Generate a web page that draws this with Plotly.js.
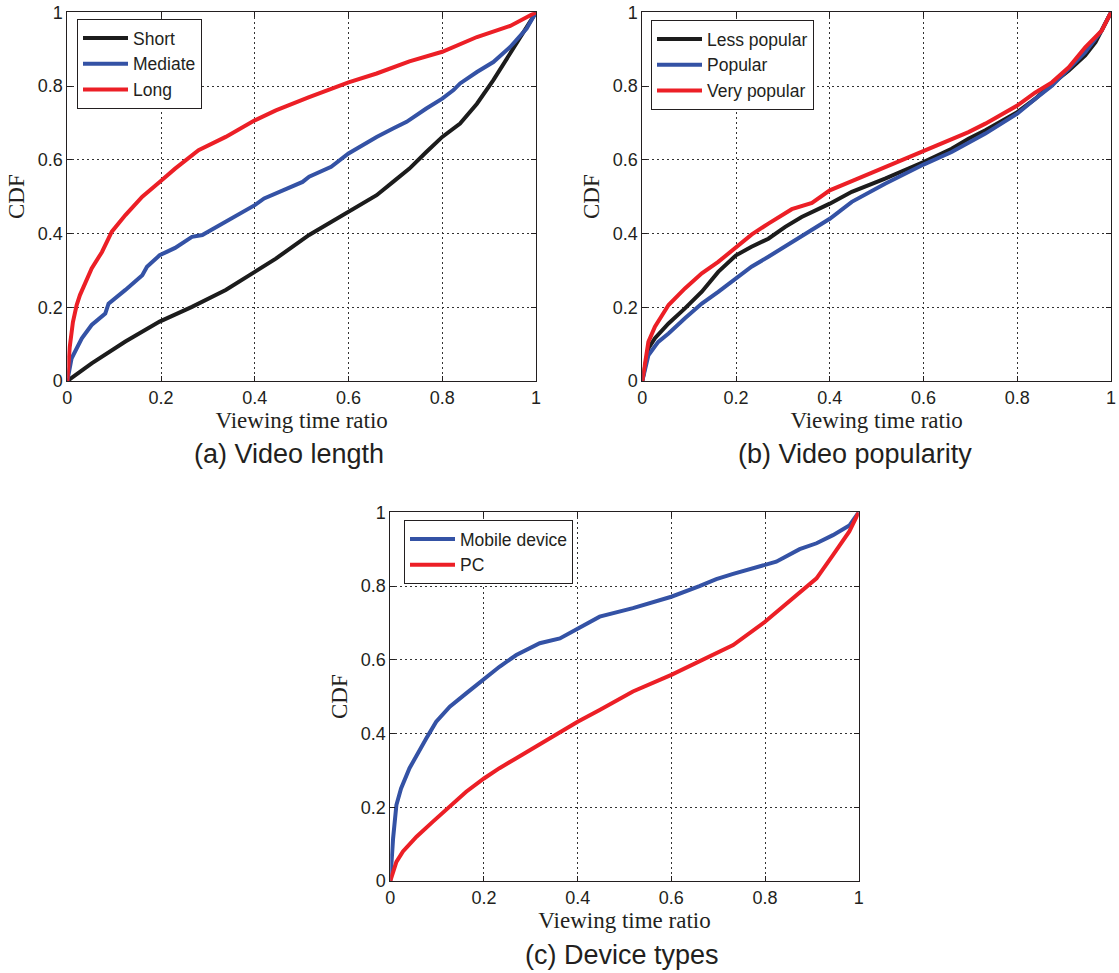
<!DOCTYPE html>
<html>
<head>
<meta charset="utf-8">
<script src="https://cdn.plot.ly/plotly-3.0.1.min.js"></script>
<style>html,body{margin:0;padding:0;background:#fff;}#chart{width:1119px;height:973px;}</style>
</head>
<body>
<div id="chart"></div>
<script>
// ---- (a) Video length ----
const lenShortX = [0, 0.052, 0.124, 0.197, 0.266, 0.338, 0.4, 0.445, 0.516, 0.6, 0.66, 0.695, 0.73, 0.766, 0.8, 0.838, 0.874, 0.909, 0.945, 0.98, 1];
const lenShortY = [0, 0.048, 0.107, 0.161, 0.201, 0.247, 0.296, 0.332, 0.396, 0.459, 0.504, 0.54, 0.576, 0.621, 0.662, 0.698, 0.752, 0.816, 0.888, 0.956, 1];
const lenMedX = [0, 0.009, 0.031, 0.052, 0.081, 0.088, 0.124, 0.16, 0.17, 0.197, 0.23, 0.266, 0.288, 0.338, 0.4, 0.42, 0.445, 0.502, 0.516, 0.563, 0.6, 0.66, 0.695, 0.724, 0.766, 0.8, 0.824, 0.838, 0.874, 0.909, 0.945, 0.98, 1];
const lenMedY = [0, 0.061, 0.116, 0.152, 0.183, 0.21, 0.247, 0.287, 0.31, 0.341, 0.361, 0.391, 0.396, 0.432, 0.477, 0.495, 0.509, 0.54, 0.554, 0.581, 0.617, 0.662, 0.685, 0.703, 0.739, 0.766, 0.789, 0.807, 0.838, 0.865, 0.906, 0.956, 1];
const lenLongX = [0, 0.005, 0.012, 0.02, 0.027, 0.052, 0.074, 0.095, 0.124, 0.16, 0.197, 0.23, 0.28, 0.338, 0.4, 0.445, 0.516, 0.6, 0.66, 0.73, 0.8, 0.874, 0.945, 1];
const lenLongY = [0, 0.09, 0.16, 0.206, 0.233, 0.305, 0.35, 0.405, 0.45, 0.5, 0.54, 0.576, 0.626, 0.662, 0.707, 0.734, 0.77, 0.81, 0.834, 0.867, 0.893, 0.933, 0.963, 1];

// ---- (b) Video popularity ----
const popLessX = [0, 0.013, 0.027, 0.056, 0.091, 0.127, 0.162, 0.2, 0.233, 0.269, 0.305, 0.34, 0.4, 0.447, 0.518, 0.6, 0.66, 0.696, 0.732, 0.8, 0.838, 0.874, 0.91, 0.945, 0.967, 0.98, 1];
const popLessY = [0, 0.088, 0.116, 0.156, 0.197, 0.242, 0.296, 0.341, 0.364, 0.386, 0.418, 0.445, 0.481, 0.513, 0.549, 0.594, 0.63, 0.657, 0.68, 0.729, 0.765, 0.806, 0.842, 0.883, 0.919, 0.95, 1];
const popMidX = [0, 0.013, 0.034, 0.056, 0.091, 0.127, 0.162, 0.2, 0.233, 0.269, 0.305, 0.34, 0.4, 0.447, 0.518, 0.6, 0.66, 0.732, 0.8, 0.838, 0.874, 0.91, 0.945, 0.98, 1];
const popMidY = [0, 0.07, 0.106, 0.129, 0.17, 0.21, 0.242, 0.278, 0.31, 0.337, 0.366, 0.391, 0.44, 0.486, 0.535, 0.587, 0.621, 0.671, 0.725, 0.765, 0.801, 0.847, 0.892, 0.95, 1];
const popVeryX = [0, 0.013, 0.027, 0.056, 0.091, 0.127, 0.162, 0.2, 0.233, 0.269, 0.319, 0.362, 0.4, 0.447, 0.518, 0.6, 0.66, 0.696, 0.732, 0.8, 0.838, 0.874, 0.91, 0.945, 0.98, 1];
const popVeryY = [0, 0.106, 0.147, 0.206, 0.251, 0.292, 0.323, 0.364, 0.397, 0.427, 0.466, 0.483, 0.517, 0.542, 0.58, 0.625, 0.657, 0.675, 0.698, 0.747, 0.782, 0.81, 0.851, 0.905, 0.95, 1];

// ---- (c) Device types ----
const devMobileX = [0, 0.006, 0.013, 0.023, 0.041, 0.056, 0.077, 0.098, 0.127, 0.162, 0.2, 0.233, 0.269, 0.319, 0.362, 0.4, 0.447, 0.518, 0.6, 0.66, 0.696, 0.732, 0.8, 0.824, 0.874, 0.91, 0.945, 0.98, 1];
const devMobileY = [0, 0.116, 0.206, 0.251, 0.306, 0.342, 0.387, 0.432, 0.473, 0.509, 0.548, 0.581, 0.613, 0.645, 0.658, 0.685, 0.717, 0.74, 0.771, 0.8, 0.819, 0.833, 0.857, 0.866, 0.9, 0.916, 0.938, 0.964, 1];
const devPcX = [0, 0.013, 0.027, 0.056, 0.091, 0.127, 0.162, 0.2, 0.233, 0.269, 0.305, 0.34, 0.4, 0.447, 0.518, 0.6, 0.66, 0.732, 0.8, 0.838, 0.874, 0.91, 0.945, 0.98, 1];
const devPcY = [0, 0.052, 0.08, 0.12, 0.161, 0.202, 0.242, 0.278, 0.306, 0.333, 0.36, 0.387, 0.432, 0.464, 0.514, 0.559, 0.595, 0.64, 0.703, 0.744, 0.78, 0.821, 0.884, 0.948, 1];

const tickVals = [0, 0.2, 0.4, 0.6, 0.8, 1];
const tickText = ["0", "0.2", "0.4", "0.6", "0.8", "1"];
const xTitle = "Viewing time ratio";
const yTitle = "CDF";
const captions = ["(a) Video length", "(b) Video popularity", "(c) Device types"];

const BLACK = '#1c1c1c', BLUE = '#3452a5', RED = '#ec1f26';
const SANS = 'Liberation Sans, Arial, Helvetica, sans-serif';
const SERIF = 'Liberation Serif, Times New Roman, serif';
const TXT = '#231f20';
const W = 1119, H = 973;

function tr(x, y, name, color, xa, ya, leg) {
  return {x: x, y: y, name: name, type: 'scatter', mode: 'lines',
    line: {color: color, width: 4}, xaxis: xa, yaxis: ya, legend: leg};
}

const data = [
  tr(lenShortX, lenShortY, 'Short', BLACK, 'x', 'y', 'legend'),
  tr(lenMedX, lenMedY, 'Mediate', BLUE, 'x', 'y', 'legend'),
  tr(lenLongX, lenLongY, 'Long', RED, 'x', 'y', 'legend'),
  tr(popLessX, popLessY, 'Less popular', BLACK, 'x2', 'y2', 'legend2'),
  tr(popMidX, popMidY, 'Popular', BLUE, 'x2', 'y2', 'legend2'),
  tr(popVeryX, popVeryY, 'Very popular', RED, 'x2', 'y2', 'legend2'),
  tr(devMobileX, devMobileY, 'Mobile device', BLUE, 'x3', 'y3', 'legend3'),
  tr(devPcX, devPcY, 'PC', RED, 'x3', 'y3', 'legend3')
];

function xax(d, anchor) {
  return {domain: d, anchor: anchor, range: [0, 1], tickvals: tickVals, ticktext: tickText,
    ticks: 'inside', ticklen: 5, tickcolor: TXT, showline: true, linecolor: TXT, linewidth: 1, mirror: 'ticks',
    showgrid: true, gridcolor: '#333', griddash: '2px,3px', gridwidth: 1, zeroline: false,
    tickfont: {family: SANS, size: 18, color: TXT},
    title: {text: xTitle, font: {family: SERIF, size: 23, color: TXT}, standoff: 1}};
}
function yax(d, anchor) {
  return {domain: d, anchor: anchor, range: [0, 1], tickvals: tickVals, ticktext: tickText,
    ticks: 'inside', ticklen: 5, tickcolor: TXT, showline: true, linecolor: TXT, linewidth: 1, mirror: 'ticks',
    showgrid: true, gridcolor: '#333', griddash: '2px,3px', gridwidth: 1, zeroline: false,
    tickfont: {family: SANS, size: 18, color: TXT},
    title: {text: yTitle, font: {family: SERIF, size: 23, color: TXT}, standoff: 6}};
}
function leg(x, ytop) {
  return {x: x / W, y: 1 - ytop / H, xanchor: 'left', yanchor: 'top', bgcolor: '#fff',
    bordercolor: TXT, borderwidth: 1, font: {family: SANS, size: 17.5, color: TXT}, itemwidth: 45, tracegroupgap: 0};
}
function cap(text, cx, cy) {
  return {text: text, xref: 'paper', yref: 'paper', x: cx / W, y: 1 - cy / H, xanchor: 'center', yanchor: 'middle',
    showarrow: false, font: {family: SANS, size: 27, color: TXT}};
}

const yTop = [1 - 381 / H, 1 - 12.3 / H];
const yBot = [1 - 881 / H, 1 - 512.3 / H];

const layout = {
  width: W, height: H, margin: {l: 0, r: 0, t: 0, b: 0},
  paper_bgcolor: '#fff', plot_bgcolor: '#fff', showlegend: true,
  xaxis: xax([67.3 / W, 536 / W], 'y'),
  yaxis: yax(yTop, 'x'),
  xaxis2: xax([642.3 / W, 1111 / W], 'y2'),
  yaxis2: yax(yTop, 'x2'),
  xaxis3: xax([390.3 / W, 858.7 / W], 'y3'),
  yaxis3: yax(yBot, 'x3'),
  legend: leg(77, 19),
  legend2: leg(651, 20),
  legend3: leg(404, 520),
  annotations: [cap(captions[0], 289, 454), cap(captions[1], 855, 454), cap(captions[2], 622, 955)]
};

Plotly.newPlot('chart', data, layout, {displayModeBar: false, staticPlot: true});
</script>
</body>
</html>
